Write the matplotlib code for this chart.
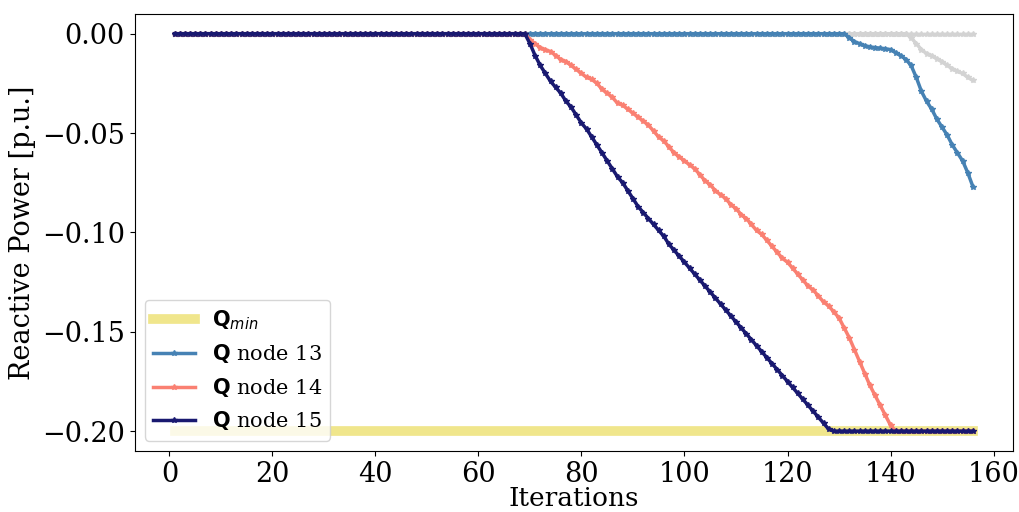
import matplotlib
matplotlib.use("Agg")
import matplotlib.pyplot as plt

plt.rcParams['font.family'] = 'DejaVu Serif'
plt.rcParams['mathtext.fontset'] = 'dejavusans'

iterations = list(range(1, 157))

q_min = [-0.2] * 156

q_node13 = [0.0] * 131 + [
    -0.002, -0.004, -0.005, -0.006, -0.0067, -0.007, -0.0073, -0.0076, -0.008,
    -0.0095, -0.011, -0.013, -0.016, -0.022, -0.029, -0.034, -0.038, -0.043,
    -0.047, -0.051, -0.056, -0.060, -0.064, -0.070, -0.077]

q_node14 = [0.0] * 69 + [
    -0.003, -0.005, -0.007, -0.008, -0.009, -0.011, -0.013, -0.014, -0.016, -0.018,
    -0.020, -0.022, -0.023, -0.025, -0.028, -0.030, -0.032, -0.035, -0.036, -0.038,
    -0.040, -0.042, -0.044, -0.046, -0.049, -0.052, -0.054, -0.057, -0.060, -0.062,
    -0.064, -0.066, -0.068, -0.071, -0.074, -0.076, -0.079, -0.081, -0.083, -0.086,
    -0.088, -0.091, -0.093, -0.096, -0.099, -0.101, -0.104, -0.107, -0.110, -0.113,
    -0.115, -0.118, -0.121, -0.124, -0.127, -0.129, -0.132, -0.135, -0.137, -0.140,
    -0.143, -0.148, -0.153, -0.159, -0.165, -0.171, -0.177, -0.182, -0.187, -0.192,
    -0.197] + [-0.2] * 16

q_node15 = [0.0] * 69 + [
    -0.005, -0.011, -0.016, -0.020, -0.024, -0.027, -0.030, -0.034, -0.037, -0.041,
    -0.045, -0.048, -0.052, -0.056, -0.060, -0.064, -0.068, -0.072, -0.075, -0.079,
    -0.083, -0.087, -0.090, -0.093, -0.096, -0.099, -0.102, -0.106, -0.109, -0.112,
    -0.115, -0.118, -0.121, -0.124, -0.127, -0.130, -0.133, -0.136, -0.139, -0.142,
    -0.145, -0.148, -0.151, -0.154, -0.157, -0.160, -0.163, -0.166, -0.169, -0.172,
    -0.175, -0.178, -0.181, -0.184, -0.187, -0.190, -0.193, -0.196, -0.199] + [-0.2] * 28

q_other_a = [0.0] * 143 + [
    -0.002, -0.005, -0.008, -0.010, -0.011, -0.0126, -0.014, -0.016, -0.0176,
    -0.019, -0.020, -0.022, -0.0235]

q_other_b = [0.0] * 156

fig = plt.figure(figsize=(10.2, 5.12), dpi=100)
ax = fig.add_axes([0.132, 0.119, 0.861, 0.854])

ax.plot(iterations, q_min, color='khaki', lw=7, label=r'$\mathbf{Q}_{min}$', zorder=1)
ax.plot(iterations, q_other_a, color='lightgrey', lw=2.5, marker='*', ms=4, zorder=2)
ax.plot(iterations, q_other_b, color='lightgrey', lw=2.5, marker='*', ms=4, zorder=2)
ax.plot(iterations, q_node13, color='steelblue', lw=2.5, marker='*', ms=4,
        label=r'$\mathbf{Q}$ node 13', zorder=3)
ax.plot(iterations, q_node14, color='salmon', lw=2.5, marker='*', ms=4,
        label=r'$\mathbf{Q}$ node 14', zorder=3)
ax.plot(iterations, q_node15, color='midnightblue', lw=2.5, marker='*', ms=4,
        label=r'$\mathbf{Q}$ node 15', zorder=4)

ax.set_xticks([0, 20, 40, 60, 80, 100, 120, 140, 160])
ax.set_yticks([0.0, -0.05, -0.10, -0.15, -0.20])
ax.tick_params(labelsize=19.5)
ax.set_xlabel('Iterations', fontsize=19, labelpad=-1.5)
ax.set_ylabel('Reactive Power [p.u.]', fontsize=19.5)
ax.legend(loc='lower left', fontsize=15)

fig.savefig('out.png', dpi=100)
